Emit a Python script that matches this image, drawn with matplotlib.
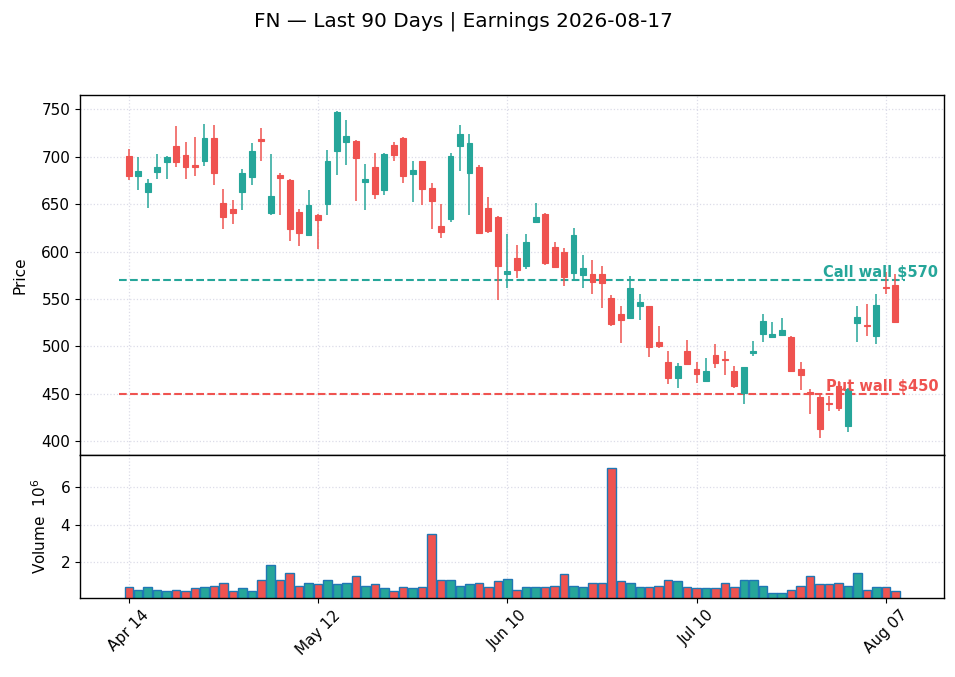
import matplotlib
matplotlib.use('Agg')
import matplotlib.pyplot as plt
import matplotlib.transforms as mtransforms
import numpy as np
import pandas as pd

# dados
ticker = 'FN'
earnings = '2026-08-17'
opens = [701, 680, 663, 684, 694, 711, 702, 691, 695, 720,
         651, 645, 663, 679, 719, 641, 681, 675, 642, 617,
         638, 650, 706, 716, 717, 673, 689, 665, 712, 720,
         682, 695, 667, 627, 634, 711, 683, 689, 646, 636,
         576, 593, 585, 631, 640, 605, 600, 577, 575, 576,
         576, 551, 534, 530, 543, 543, 505, 483, 466, 495,
         476, 463, 491, 487, 474, 451, 493, 513, 510, 512,
         510, 476, 452, 446, 440, 458, 416, 525, 522, 511,
         563, 565]
highs = [708, 700, 676, 703, 701, 732, 716, 721, 735, 733,
         666, 654, 687, 714, 730, 703, 683, 676, 645, 665,
         640, 707, 748, 739, 718, 692, 704, 704, 716, 721,
         695, 696, 672, 650, 704, 733, 724, 691, 657, 637,
         618, 607, 618, 651, 641, 610, 604, 625, 596, 591,
         585, 554, 542, 574, 555, 543, 521, 495, 482, 507,
         483, 488, 502, 495, 479, 478, 506, 534, 526, 530,
         511, 483, 455, 449, 447, 463, 456, 543, 545, 555,
         578, 576]
lows = [675, 665, 646, 676, 677, 689, 677, 680, 690, 670,
        624, 629, 644, 670, 696, 639, 639, 611, 606, 616,
        603, 639, 681, 691, 653, 644, 655, 660, 696, 672,
        652, 649, 624, 614, 631, 685, 639, 619, 619, 549,
        561, 572, 582, 631, 586, 583, 564, 570, 562, 555,
        540, 521, 503, 529, 528, 489, 498, 460, 456, 480,
        461, 462, 477, 470, 456, 439, 490, 505, 509, 512,
        474, 454, 428, 403, 432, 432, 410, 505, 511, 502,
        555, 526]
closes = [680, 685, 672, 689, 700, 694, 689, 689, 720, 683,
          636, 641, 683, 706, 717, 659, 678, 624, 619, 649,
          633, 696, 747, 722, 699, 677, 661, 703, 702, 680,
          686, 666, 653, 621, 701, 724, 715, 619, 622, 585,
          579, 581, 610, 636, 588, 584, 573, 617, 583, 568,
          567, 524, 528, 562, 547, 499, 500, 467, 479, 481,
          471, 474, 482, 486, 458, 478, 495, 527, 513, 517,
          474, 470, 450, 413, 439, 435, 455, 531, 521, 544,
          562, 526]
# volume em milhoes
volumes = [0.73, 0.57, 0.73, 0.57, 0.47, 0.57, 0.47, 0.63, 0.68, 0.78,
           0.94, 0.47, 0.63, 0.47, 1.05, 1.84, 1.10, 1.42, 0.78, 0.94,
           0.84, 1.05, 0.84, 0.94, 1.26, 0.78, 0.84, 0.63, 0.47, 0.73,
           0.63, 0.68, 3.48, 1.05, 1.10, 0.78, 0.84, 0.94, 0.73, 1.00,
           1.15, 0.52, 0.68, 0.68, 0.68, 0.78, 1.37, 0.78, 0.68, 0.94,
           0.89, 6.98, 1.00, 0.89, 0.68, 0.68, 0.78, 1.05, 1.00, 0.68,
           0.63, 0.63, 0.63, 0.89, 0.68, 1.05, 1.10, 0.78, 0.41, 0.41,
           0.57, 0.78, 1.31, 0.84, 0.84, 0.89, 0.78, 1.47, 0.57, 0.68,
           0.73, 0.47]
call_wall = 570
put_wall = 450

# pregoes (sem feriados da NYSE)
feriados = ['2026-05-25', '2026-06-19', '2026-07-03']
datas = pd.date_range('2026-04-14', periods=len(closes),
                      freq=pd.offsets.CustomBusinessDay(holidays=feriados))

up_color = '#26a69a'
down_color = '#ef5350'

o = np.array(opens, dtype=float)
h = np.array(highs, dtype=float)
l = np.array(lows, dtype=float)
c = np.array(closes, dtype=float)
v = np.array(volumes, dtype=float)
x = np.arange(len(c))
cores = np.where(c >= o, up_color, down_color)

fig = plt.figure(figsize=(9.55, 6.77), dpi=100)
ax = fig.add_axes([0.0838, 0.3279, 0.9047, 0.5318])
axv = fig.add_axes([0.0838, 0.1167, 0.9047, 0.2112], sharex=ax)

# candles
ax.vlines(x, l, h, colors=cores, linewidth=1.1, zorder=2)
corpo = np.maximum(np.abs(c - o), 0.6)
ax.bar(x, corpo, width=0.62, bottom=np.minimum(o, c), color=cores,
       edgecolor=cores, linewidth=0.8, zorder=3)

# paredes de opcoes
ax.hlines(call_wall, -1, len(c), colors=up_color, linestyles='--', linewidth=1.5, zorder=1)
ax.hlines(put_wall, -1, len(c), colors=down_color, linestyles='--', linewidth=1.5, zorder=1)
trans = mtransforms.blended_transform_factory(ax.transAxes, ax.transData)
ax.text(0.9935, call_wall, f'Call wall ${call_wall}', transform=trans, ha='right',
        va='bottom', color=up_color, fontsize=10.5, fontweight='bold')
ax.text(0.9935, put_wall, f'Put wall ${put_wall}', transform=trans, ha='right',
        va='bottom', color=down_color, fontsize=10.5, fontweight='bold')

# volume
axv.bar(x, v, width=0.9, color=cores, edgecolor='#1f77b4', linewidth=1.0)

ax.set_xlim(-5.15, 86.15)
ax.set_ylim(385.2, 765.2)
axv.set_ylim(0.3 * v.min(), 1.1 * v.max())

ax.set_ylabel('Price', fontsize=11, labelpad=10)
axv.set_ylabel('Volume  $10^{6}$', fontsize=11, labelpad=8)
axv.set_yticks([2, 4, 6])

pos = list(range(0, len(c), 20))
axv.set_xticks(pos)
axv.set_xticklabels([datas[i].strftime('%b %d') for i in pos], rotation=45, fontsize=11)
ax.tick_params(axis='x', labelbottom=False, length=0)
ax.tick_params(axis='y', labelsize=11)
axv.tick_params(axis='y', labelsize=11)

for a in (ax, axv):
    a.grid(True, linestyle=':', color='#dcdce8', linewidth=0.9)
    a.set_axisbelow(True)
    for s in a.spines.values():
        s.set_linewidth(1.0)

fig.text(0.485, 0.968, f'{ticker} \u2014 Last 90 Days | Earnings {earnings}',
         ha='center', va='center', fontsize=14.4)

fig.savefig('out.png', dpi=100)
